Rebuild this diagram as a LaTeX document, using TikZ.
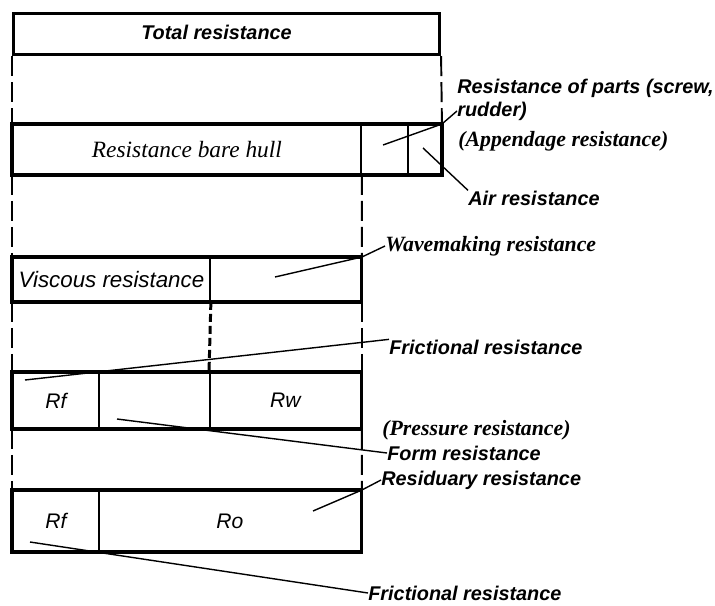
\documentclass[tikz,border=0pt]{standalone}
\usepackage{fontspec}
\setmainfont{Liberation Serif}
\setsansfont{Liberation Sans}
\usepackage{tikz}
\tikzset{
	cell/.style={draw,line width=1.1pt,inner sep=0pt,anchor=north west,font=\sffamily\itshape\fontsize{12}{14}\selectfont},
	boxframe/.style={line width=1.8pt},
	dashlink/.style={line width=1.1pt,dash pattern=on 0.4cm off 0.12cm},
	leader/.style={line width=0.8pt},
	lbl/.style={inner sep=0pt,anchor=west,font=\sffamily\bfseries\itshape\fontsize{11.3}{13}\selectfont},
	slbl/.style={inner sep=0pt,anchor=west,font=\rmfamily\bfseries\itshape\fontsize{12.4}{14}\selectfont}
}

\begin{document}
\begin{tikzpicture}[x=0.02cm,y=-0.02cm]
	\useasboundingbox (0,0) rectangle (715,605);
	% cells (pixel grid of the drawing)
	\node[cell,boxframe,minimum width=8.52cm,minimum height=0.82cm,font=\sffamily\bfseries\itshape\fontsize{11.3}{13}\selectfont] (total) at (12,12) {\raisebox{2.5pt}{Total resistance}\kern0.4cm};
	\node[cell,minimum width=6.96cm,minimum height=0.98cm,font=\rmfamily\itshape\fontsize{13.3}{15}\selectfont] (hull) at (12,124) {Resistance bare hull};
	\node[cell,minimum width=0.94cm,minimum height=0.98cm] (parts) at (360,124) {};
	\node[cell,minimum width=0.66cm,minimum height=0.98cm] (air) at (407,124) {};
	\node[cell,minimum width=3.94cm,minimum height=0.86cm,font=\sffamily\itshape\fontsize{12.7}{15}\selectfont] (visc) at (12,257) {Viscous resistance};
	\node[cell,minimum width=3.02cm,minimum height=0.86cm] (wave) at (209,257) {};
	\node[cell,minimum width=1.72cm,minimum height=1.10cm] (rfa) at (12,372) {Rf};
	\node[cell,minimum width=2.22cm,minimum height=1.10cm] (form) at (98,372) {};
	\node[cell,minimum width=3.02cm,minimum height=1.10cm] (rw) at (209,372) {Rw};
	\node[cell,minimum width=1.72cm,minimum height=1.20cm] (rfb) at (12,490) {Rf};
	\node[cell,minimum width=5.24cm,minimum height=1.20cm] (ro) at (98,490) {Ro};
	\draw[boxframe] (hull.north west) rectangle (air.south east);
	\draw[boxframe] (visc.north west) rectangle (wave.south east);
	\draw[boxframe] (rfa.north west) rectangle (rw.south east);
	\draw[boxframe] (rfb.north west) rectangle (ro.south east);
	% dashed splits
	\draw[dashlink] (total.south west) -- (hull.north west);
	\draw[dashlink] (total.south east) -- (air.north east);
	\draw[dashlink] (hull.south west) -- (visc.north west);
	\draw[dashlink] (hull.south east) -- (wave.north east);
	\draw[dashlink] (visc.south west) -- (rfa.north west);
	\draw[dashlink,line width=1.7pt,dash pattern=on 0.16cm off 0.08cm] (visc.south east) -- (rw.north west);
	\draw[dashlink] (wave.south east) -- (rw.north east);
	\draw[dashlink] (rfa.south west) -- (rfb.north west);
	\draw[dashlink] (rw.south east) -- (ro.north east);
	% labels
	\node[lbl] (lparts) at (457,88) {Resistance of parts (screw,};
	\node[lbl] (lrudder) at (457,111) {rudder)};
	\node[slbl] (lappend) at (458,141) {(Appendage resistance)};
	\node[lbl] (lair) at (468,198) {Air resistance};
	\node[slbl] (lwave) at (385,246) {Wavemaking resistance};
	\node[lbl] (lfrica) at (389,347) {Frictional resistance};
	\node[slbl] (lpress) at (382,430) {(Pressure resistance)};
	\node[lbl] (lform) at (387,453) {Form resistance};
	\node[lbl] (lresid) at (381,480) {Residuary resistance};
	\node[lbl] (lfricb) at (368,593) {Frictional resistance};
	% leaders
	\coordinate (pa) at (383,145);
	\coordinate (ai) at (423,148);
	\coordinate (wv) at (275,277);
	\coordinate (fa) at (25,380);
	\coordinate (fo) at (117,419);
	\coordinate (rs) at (313,511);
	\coordinate (fb) at (30,542);
	\draw[leader] (pa) -- (air.north east) -- (lrudder.west);
	\draw[leader] (ai) -- (lair.north west);
	\draw[leader] (wv) -- (wave.north east) -- (lwave.west);
	\draw[leader] (fa) -- (lfrica.north west);
	\draw[leader] (fo) -- (lform.west);
	\draw[leader] (rs) -- (ro.north east) -- (lresid.west);
	\draw[leader] (fb) -- (lfricb.west);
\end{tikzpicture}
\end{document}
